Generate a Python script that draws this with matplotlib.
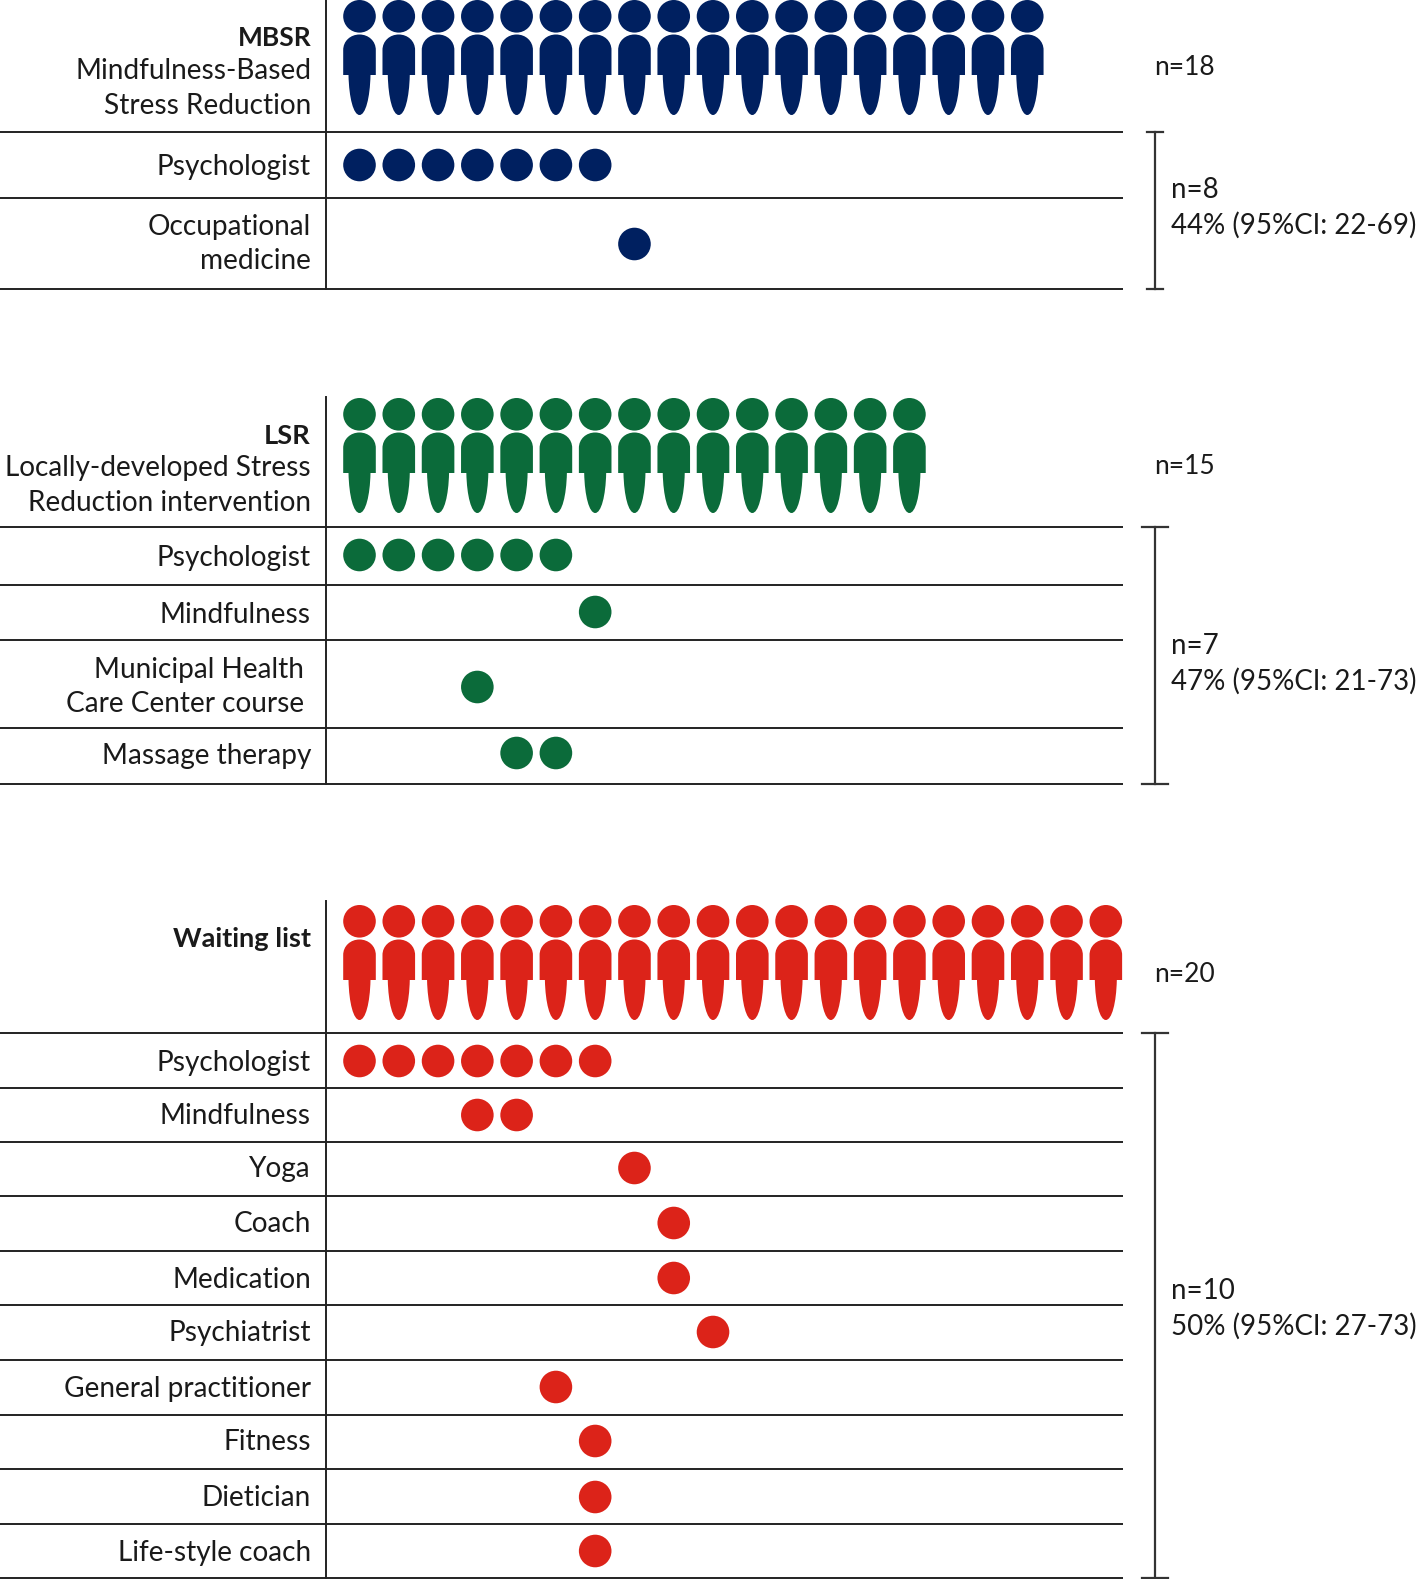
import matplotlib
matplotlib.use("Agg")
import matplotlib.pyplot as plt
from matplotlib.patches import Circle, PathPatch
from matplotlib.path import Path

plt.rcParams['font.family'] = ['Lato', 'DejaVu Sans']

# data
mbsr_rows = ["Psychologist", "Occupational\nmedicine"]
mbsr_slots = [[0, 1, 2, 3, 4, 5, 6], [7]]
mbsr_people = 18

lsr_rows = ["Psychologist", "Mindfulness", "Municipal Health \nCare Center course ", "Massage therapy"]
lsr_slots = [[0, 1, 2, 3, 4, 5], [6], [3], [4, 5]]
lsr_people = 15

wait_rows = ["Psychologist", "Mindfulness", "Yoga", "Coach", "Medication", "Psychiatrist",
             "General practitioner", "Fitness", "Dietician", "Life-style coach"]
wait_slots = [[0, 1, 2, 3, 4, 5, 6], [3, 4], [7], [8], [8], [9], [5], [6], [6], [6]]
wait_people = 20

n_labels = ["n=18", "n=15", "n=20"]
ci_labels = ["n=8\n44% (95%CI: 22-69)", "n=7\n47% (95%CI: 21-73)", "n=10\n50% (95%CI: 27-73)"]

# layout, in pixels of the picture
W, H = 1418, 1579
X0 = 359.5
STEP = 39.28
R = 16.3
FS = 20.2
LS = 1.39
NAVY, GREEN, RED = "#002060", "#0b6b3a", "#dc2319"
LINE = "#222222"
TEXT = "#1a1a1a"
TX = 311

fig = plt.figure(figsize=(W / 100, H / 100), dpi=100)
ax = fig.add_axes([0, 0, 1, 1])
ax.set_xlim(0, W)
ax.set_ylim(H, 0)
ax.axis("off")


def person(cx, top, color):
    ax.add_patch(Circle((cx, top + R), R, fc=color, ec="none"))
    verts = [(-R, 75), (-R, 50), (-R, 41), (-9, 34.5), (0, 34.5), (9, 34.5), (R, 41), (R, 50),
             (R, 75), (11, 75), (10.5, 98), (6, 115), (0, 115), (-6, 115), (-10.5, 98), (-11, 75),
             (-R, 75)]
    codes = [Path.MOVETO, Path.LINETO, Path.CURVE4, Path.CURVE4, Path.CURVE4, Path.CURVE4, Path.CURVE4,
             Path.CURVE4, Path.LINETO, Path.LINETO, Path.CURVE4, Path.CURVE4, Path.CURVE4, Path.CURVE4,
             Path.CURVE4, Path.CURVE4, Path.CLOSEPOLY]
    verts = [(cx + x, top + y) for x, y in verts]
    ax.add_patch(PathPatch(Path(verts, codes), fc=color, ec="none"))


def group(top, head, lines, dots_y, rows, slots, people, color, bracket, cap, ci, ci_y, n, n_y, dy):
    ax.plot([326, 326], [top, lines[-1]], color=LINE, lw=1.4)
    for y in lines:
        ax.plot([0, 1123], [y, y], color=LINE, lw=1.4, solid_capstyle="butt")
    for i in range(people):
        person(X0 + i * STEP, head, color)
    for row, s, y in zip(rows, slots, dots_y):
        for k in s:
            ax.add_patch(Circle((X0 + k * STEP, y), R, fc=color, ec="none"))
        ty = y if "\n" in row else y + dy
        ax.text(TX, ty, row, ha="right", va="center", fontsize=FS, color=TEXT, linespacing=LS)
    ax.text(1154, n_y, n, va="center", fontsize=19, color=TEXT)
    ax.text(1171, ci_y, ci, va="center", fontsize=19.9, color=TEXT, linespacing=LS)
    ax.plot([1155, 1155], bracket, color="#333333", lw=1.6)
    for y in bracket:
        ax.plot([1155 - cap, 1155 + cap], [y, y], color="#333333", lw=1.6)


group(0, 0, [132, 197.5, 289], [165, 244], mbsr_rows, mbsr_slots, mbsr_people, NAVY,
      [132, 289], 8, ci_labels[0], 208, n_labels[0], 67.5, 1.5)
group(397, 398, [527, 585, 640, 728, 783.5], [555, 612, 687, 753], lsr_rows, lsr_slots, lsr_people, GREEN,
      [527, 783.5], 13, ci_labels[1], 664, n_labels[1], 466, 3)
group(901, 905, [1033, 1088, 1142, 1196, 1251, 1305, 1360, 1415, 1469, 1524, 1578],
      [1061, 1115, 1168, 1223, 1278, 1332, 1387, 1441, 1497, 1551], wait_rows, wait_slots, wait_people, RED,
      [1033, 1578], 13, ci_labels[2], 1309, n_labels[2], 974, 1.5)

# group headings
ax.text(TX, 38, "MBSR", ha="right", va="center", fontsize=19, fontweight="bold", color=TEXT)
ax.text(TX, 88.5, "Mindfulness-Based\nStress Reduction", ha="right", va="center", fontsize=FS,
        color=TEXT, linespacing=LS)
ax.text(TX, 436, "LSR", ha="right", va="center", fontsize=19.6, fontweight="bold", color=TEXT)
ax.text(TX, 485.5, "Locally-developed Stress\nReduction intervention", ha="right", va="center", fontsize=FS,
        color=TEXT, linespacing=LS)
ax.text(TX, 939, "Waiting list", ha="right", va="center", fontsize=19.6, fontweight="bold", color=TEXT)

fig.savefig("out.png", dpi=100)
